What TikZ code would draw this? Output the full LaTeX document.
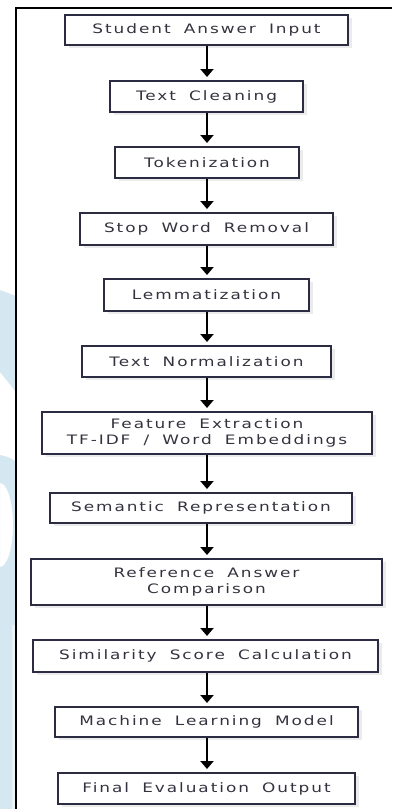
\documentclass[tikz,border=0pt]{standalone}
\usepackage{fontspec}
\usetikzlibrary{arrows.meta,shadows}
\newfontfamily\boxfont[LetterSpace=15,FakeStretch=1.3,WordSpace=1.8]{DejaVu Sans}
\definecolor{boxline}{HTML}{2B2B42}
\definecolor{boxtext}{HTML}{33333F}
\definecolor{wmblue}{HTML}{D5E7F0}
\definecolor{wmlight}{HTML}{E9F3F7}
\definecolor{shadowgray}{HTML}{EBEBEB}
\tikzset{
  stepbox/.style={draw=boxline, line width=2pt, fill=white, inner sep=0pt,
    font=\boxfont\fontsize{13}{16.5}\selectfont, text=boxtext, align=center,
    drop shadow={shadow xshift=4pt, shadow yshift=-3pt, fill=shadowgray, opacity=1}},
  flow/.style={line width=2.2pt, -{Triangle[width=13pt,length=8pt]}, shorten >=3pt}
}
\begin{document}
\begin{tikzpicture}[x=1pt,y=-1pt]
\useasboundingbox (0,0) rectangle (392,809);
% watermark shapes
\fill[wmblue] (0,290) -- (16,296) -- (16,392) -- (0,372) -- cycle;
\fill[wmblue, even odd rule] (0,455) .. controls (6,456) and (12,458) .. (16,462) -- (16,809) -- (0,809) -- cycle
  (0,525) ellipse [x radius=13, y radius=42];
\fill[wmlight] (12,625) rectangle (14.5,809);
% frame
\draw[line width=2pt] (16,809) -- (16,8) -- (392,8);
% boxes
\node[stepbox, minimum width=283pt, minimum height=30pt] (b1) at (206.5,30) {Student Answer Input};
\node[stepbox, minimum width=193pt, minimum height=31pt] (b2) at (206.5,96.5) {Text Cleaning};
\node[stepbox, minimum width=184pt, minimum height=31pt] (b3) at (207,162.5) {Tokenization};
\node[stepbox, minimum width=253pt, minimum height=32pt] (b4) at (206.5,229) {Stop Word Removal};
\node[stepbox, minimum width=205pt, minimum height=32pt] (b5) at (206.5,295) {Lemmatization};
\node[stepbox, minimum width=249pt, minimum height=31pt] (b6) at (206.5,361.5) {Text Normalization};
\node[stepbox, minimum width=330pt, minimum height=42pt] (b7) at (207,433) {Feature Extraction\\TF-IDF / Word Embeddings};
\node[stepbox, minimum width=302pt, minimum height=30pt] (b8) at (201,508) {Semantic Representation};
\node[stepbox, minimum width=351pt, minimum height=46pt] (b9) at (206.5,582) {Reference Answer\\Comparison};
\node[stepbox, minimum width=345pt, minimum height=32pt] (b10) at (205.5,656) {Similarity Score Calculation};
\node[stepbox, minimum width=303pt, minimum height=30pt] (b11) at (206.5,722) {Machine Learning Model};
\node[stepbox, minimum width=297pt, minimum height=31pt] (b12) at (206.5,788.5) {Final Evaluation Output};
% arrows
\coordinate (ax) at (207,0);
\foreach \a/\b in {b1/b2,b2/b3,b3/b4,b4/b5,b5/b6,b6/b7,b7/b8,b8/b9,b9/b10,b10/b11,b11/b12}{
  \draw[flow] (ax |- \a.south) -- (ax |- \b.north);
}
\end{tikzpicture}
\end{document}
